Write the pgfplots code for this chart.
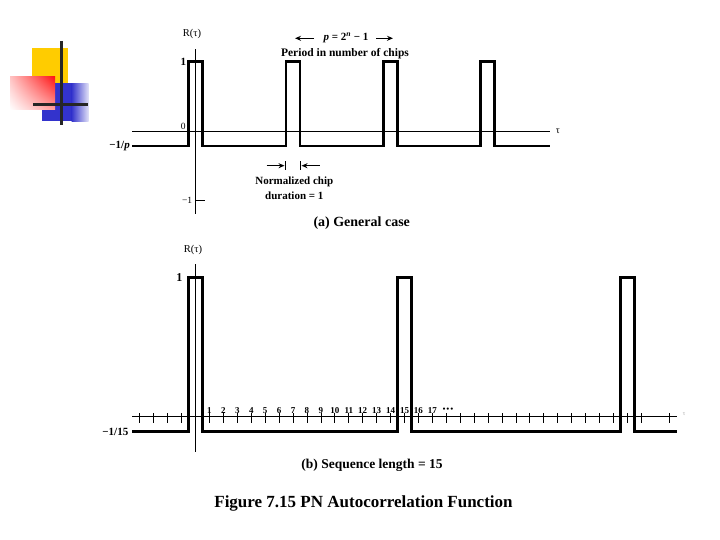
\documentclass[border=0pt]{standalone}
\usepackage{pgfplots}
\pgfplotsset{compat=1.18}
\usepackage{fontspec}
\setmainfont{Liberation Serif}
\usetikzlibrary{arrows.meta,shadings}
\definecolor{logoyellow}{RGB}{255,204,0}
\definecolor{logoblue}{RGB}{51,51,204}
\definecolor{logored}{RGB}{255,20,20}
\newcommand{\fs}[1]{\fontsize{#1}{#1}\selectfont}
\begin{document}
\begin{tikzpicture}
\path[use as bounding box, fill=white] (0,0) rectangle (720pt,540pt);

% ---------------- panel (a) ----------------
\begin{axis}[
  at={(132pt,326pt)}, anchor=south west,
  scale only axis, width=418pt, height=165pt,
  xmin=-4.58, xmax=25.49, ymin=-1.194, ymax=1.18,
  axis lines=middle, axis line style={-, line width=0.8pt},
  xtick=\empty, ytick={-1}, yticklabels={−1},
  tick align=inside, major tick length=9pt,
  tick style={line width=0.8pt, black},
  yticklabel style={font=\fs{9.5}},
  clip=false,
]
\addplot[line width=2.6pt, black, line join=miter] coordinates {
  (-4.58,-0.216) (-0.5,-0.216) (-0.5,1) (0.5,1) (0.5,-0.216)
  (6.5,-0.216) (6.5,1) (7.5,1) (7.5,-0.216)
  (13.5,-0.216) (13.5,1) (14.5,1) (14.5,-0.216)
  (20.5,-0.216) (20.5,1) (21.5,1) (21.5,-0.216) (25.49,-0.216)
};
\end{axis}

% ---------------- panel (b) ----------------
\begin{axis}[
  at={(132.3pt,88pt)}, anchor=south west,
  scale only axis, width=544.4pt, height=188pt,
  xmin=-4.54, xmax=34.54, ymin=-0.26, ymax=1.099,
  axis lines=middle, axis line style={-, line width=0.8pt},
  ytick=\empty,
  xtick={1,2,...,17},
  xticklabels={1,2,3,4,5,6,7,8,9,10,11,12,13,14,15,16,17},
  extra x ticks={-4,-3,-2,-1,18,19,20,21,22,23,24,25,26,27,28,29,30,31,32,34},
  extra x tick labels={},
  tick align=center, major tick length=10pt,
  tick style={line width=0.8pt, black, yshift=-1.7pt},
  xticklabel style={anchor=south, font=\bfseries\fs{9}, yshift=7pt, inner sep=0.5pt},
  clip=false,
]
\addplot[line width=3.4pt, black, line join=miter] coordinates {
  (-4.54,-0.1135) (-0.5,-0.1135) (-0.5,1) (0.5,1) (0.5,-0.1135)
  (14.5,-0.1135) (14.5,1) (15.5,1) (15.5,-0.1135)
  (30.5,-0.1135) (30.5,1) (31.5,1) (31.5,-0.1135) (34.54,-0.1135)
};
\end{axis}

\begin{scope}[x=1pt,y=-1pt,yshift=540pt]
% logo
\fill[logoyellow] (32,48) rectangle (68,85);
\fill[logoblue] (42,83.5) rectangle (72,121.5);
\shade[left color=logoblue, right color=logoblue!15] (71.5,83.5) rectangle (88.5,121.5);
\shade[upper left=logored!25, upper right=logored, lower left=white, lower right=logored!40] (10,77) rectangle (55,110);
\draw[black!85, line width=3pt] (61.5,41) -- (61.5,125);
\draw[black!85, line width=3pt] (33,105) -- (88,105);

% panel (a) annotations
\node[font=\fs{10.5}] at (192,34) {R(τ)};
\draw[-{Stealth[length=6pt,width=5pt]}, line width=1.2pt] (314,38.3) -- (295,38.3);
\node[font=\bfseries\fs{11}] at (346,38.3) {\textit{p} = 2\textsuperscript{\textit{n}} − 1};
\draw[-{Stealth[length=6pt,width=5pt]}, line width=1.2pt] (376,38.3) -- (393,38.3);
\node[font=\bfseries\fs{11.5}] at (345,53.3) {Period in number of chips};
\node[font=\bfseries\fs{11}] at (183.3,62.3) {1};
\node[font=\fs{9.5}] at (183.3,126) {0};
\node[font=\bfseries\fs{11}, anchor=east, inner sep=1pt] at (131,146.5) {−1/\textit{p}};
\node[font=\fs{10}] at (558,131) {τ};
\draw[-{Stealth[length=6pt,width=5pt]}, line width=1pt] (266.5,165.7) -- (284.5,165.7);
\draw[line width=1pt] (285.5,161.5) -- (285.5,170);
\draw[-{Stealth[length=6pt,width=5pt]}, line width=1pt] (319.5,165.7) -- (301.5,165.7);
\draw[line width=1pt] (300.5,161.5) -- (300.5,170);
\node[font=\bfseries\fs{11}] at (294.3,182.3) {Normalized chip};
\node[font=\bfseries\fs{11}] at (294.3,195.3) {duration = 1};
\node[font=\bfseries\fs{14}] at (361.7,223.3) {(a) General case};

% panel (b) annotations
\node[font=\fs{10.5}] at (193,250) {R(τ)};
\node[font=\bfseries\fs{12}] at (179.3,277.7) {1};
\node[font=\bfseries\fs{11}, anchor=east, inner sep=1pt] at (129.5,431.7) {−1/15};
\node[font=\fs{5}] at (448,409) {●\,●\,●};
\node[font=\fs{6}, text=black!35] at (684,414) {τ};
\node[font=\bfseries\fs{13.5}] at (372,465) {(b) Sequence length = 15};
\node[font=\bfseries\fs{17}] at (363.5,503) {Figure 7.15 PN Autocorrelation Function};
\end{scope}
\end{tikzpicture}
\end{document}
